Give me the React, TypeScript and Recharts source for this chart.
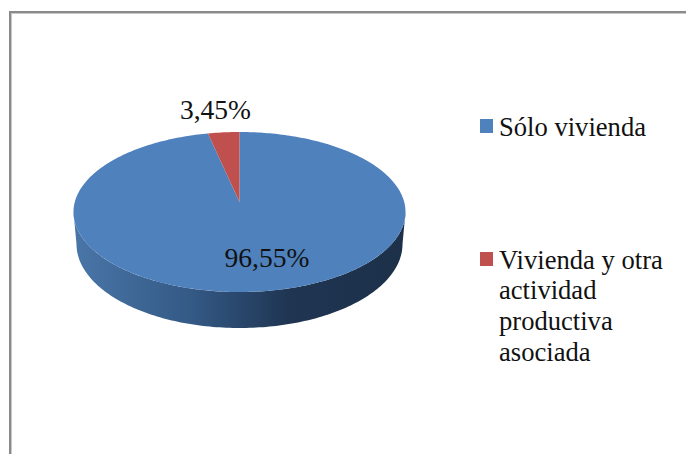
import { PieChart, Pie, Legend } from 'recharts'

const categories = ['Sólo vivienda', 'Vivienda y otra actividad productiva asociada']
const shares = [96.55, 3.45]
const colors = ['#4f81bd', '#c0504d']

const data = categories.map((name, i) => ({ name, value: shares[i], fill: colors[i] }))

const FONT = '"Liberation Serif", "Times New Roman", serif'
const CX = 239.5
const CY = 202
const RADIUS = 164.7
// perspective of the tilted disc: apex sits above the middle of the ellipse
const TILT = 0.125
const SQUASH = 78.75 / RADIUS
// lower rim of the side wall
const WALL_DROP = 32
const WALL_NARROW = 0.982
const WALL_STRETCH = 1.05
const ELLIPSE_MID = 212

const labelSpots = [
  { x: 267, y: 267 },
  { x: 215.5, y: 119 },
]

function project(cx: number, cy: number, r: number, deg: number) {
  const a = (deg * Math.PI) / 180
  const w = 1 + (TILT * r * Math.sin(a)) / RADIUS
  return {
    x: cx + (r * Math.cos(a)) / w,
    y: cy - (SQUASH * r * Math.sin(a)) / w,
  }
}

function SliceShape(props: any) {
  const { cx, cy, outerRadius, startAngle, endAngle, fill, index } = props
  const lo = Math.min(startAngle, endAngle)
  const hi = Math.max(startAngle, endAngle)

  const top: string[] = [`${cx},${cy}`]
  const steps = Math.max(8, Math.round(hi - lo))
  for (let i = 0; i <= steps; i++) {
    const p = project(cx, cy, outerRadius, hi - ((hi - lo) * i) / steps)
    top.push(`${p.x},${p.y}`)
  }

  // front part of the rim only
  const edge = (Math.asin(TILT) * 180) / Math.PI
  const rim: { x: number; y: number }[] = []
  for (let d = -180 + edge; d <= -edge + 0.01; d += (180 - 2 * edge) / 160) {
    if (d >= lo && d <= hi) rim.push(project(cx, cy, outerRadius, d))
  }
  const lower = rim
    .map((p) => ({
      x: cx + (p.x - cx) * WALL_NARROW,
      y: ELLIPSE_MID + WALL_DROP + (p.y - ELLIPSE_MID) * WALL_STRETCH,
    }))
    .reverse()
  const wall = [...rim, ...lower].map((p) => `${p.x},${p.y}`).join(' ')
  const gradId = `wall-${index}`

  return (
    <g>
      {rim.length > 0 && (
        <>
          <defs>
            <linearGradient id={gradId} gradientUnits="userSpaceOnUse" x1={73} y1={0} x2={405} y2={0}>
              <stop offset="0%" stopColor="#4a76a8" />
              <stop offset="35%" stopColor="#345a86" />
              <stop offset="65%" stopColor="#1f3552" />
              <stop offset="100%" stopColor="#1c3049" />
            </linearGradient>
          </defs>
          <polygon points={wall} fill={`url(#${gradId})`} />
        </>
      )}
      <polygon points={top.join(' ')} fill={fill} />
    </g>
  )
}

function renderLabel(props: any) {
  const spot = labelSpots[props.index]
  return (
    <text
      x={spot.x}
      y={spot.y}
      textAnchor="middle"
      fontFamily={FONT}
      fontSize={27.5}
      fill="#111"
    >
      {`${props.value.toFixed(2).replace('.', ',')}%`}
    </text>
  )
}

function renderLegend(props: any) {
  const items = props.payload || []
  return (
    <div style={{ fontFamily: FONT, fontSize: 26.6, lineHeight: '30.7px', color: '#111' }}>
      {items.map((item: any, i: number) => (
        <div key={item.value} style={{ position: 'relative', paddingLeft: 19, marginTop: i === 0 ? 0 : 102 }}>
          <span
            style={{
              position: 'absolute',
              left: 0,
              top: 7,
              width: 13,
              height: 14,
              background: item.color,
            }}
          />
          {item.value}
        </div>
      ))}
    </div>
  )
}

export default function App() {
  return (
    <div style={{ position: 'fixed', left: 0, top: 0, width: 686, height: 454, overflow: 'hidden', background: '#fff' }}>
      <div
        style={{
          position: 'absolute',
          left: 9,
          top: 11,
          width: 720,
          height: 500,
          borderLeft: '2px solid #8a8a8a',
          borderTop: '2px solid #8a8a8a',
          boxShadow: 'inset 1px 1px 0 #c8c8c8',
        }}
      />
      <div style={{ position: 'absolute', left: 0, top: 0 }}>
        <PieChart width={686} height={454} margin={{ top: 0, right: 0, bottom: 0, left: 0 }}>
          <Pie
            data={data}
            dataKey="value"
            nameKey="name"
            cx={CX}
            cy={CY}
            outerRadius={RADIUS}
            startAngle={90}
            endAngle={-270}
            stroke="none"
            shape={SliceShape}
            label={renderLabel}
            labelLine={false}
            isAnimationActive={false}
          />
          <Legend
            content={renderLegend}
            itemSorter={null}
            wrapperStyle={{ position: 'absolute', left: 480, top: 112, width: 190, bottom: 'auto', right: 'auto' }}
          />
        </PieChart>
      </div>
    </div>
  )
}
